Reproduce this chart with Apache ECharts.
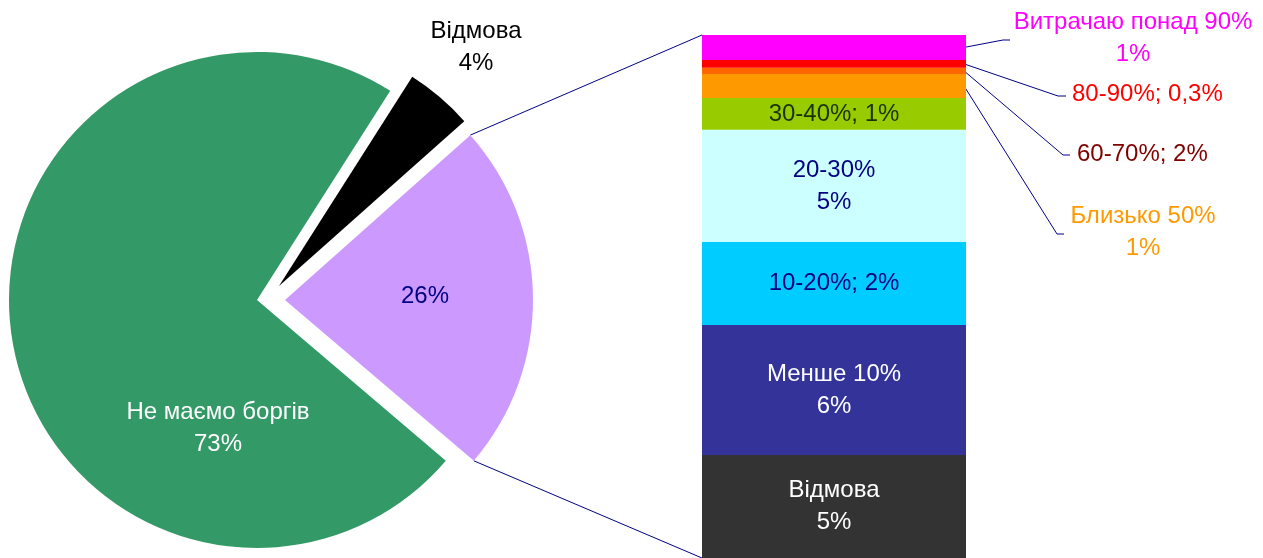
<!DOCTYPE html>
<html>
<head>
<meta charset="utf-8">
<script src="https://cdn.jsdelivr.net/npm/echarts@6/dist/echarts.min.js"></script>
<style>
  html, body { margin: 0; padding: 0; background: #fff; }
  #chart { width: 1263px; height: 558px; }
</style>
</head>
<body>
<div id="chart"></div>
<script>
// pie part (clockwise from the black slice)
var pieNames = ['Відмова', 'Маємо борги', 'Не маємо боргів'];
var pieValues = [4.4, 22.8, 72.8];
var pieLabels = ['Відмова\n4%', '26%', 'Не маємо боргів\n73%'];

// bar part, from bottom to top
var barNames = ['Відмова', 'Менше 10%', '10-20%', '20-30%', '30-40%', 'Близько 50%', '60-70%', '80-90%', 'Витрачаю понад 90%'];
var barValues = [4.55, 5.74, 3.67, 4.95, 1.41, 1.06, 0.27, 0.35, 1.10];
var barLabels = ['Відмова\n5%', 'Менше 10%\n6%', '10-20%; 2%', '20-30%\n5%', '30-40%; 1%', 'Близько 50%\n1%', '60-70%; 2%', '80-90%; 0,3%', 'Витрачаю понад 90%\n1%'];

var font = 'Liberation Sans, Arial, sans-serif';
var pieColors = ['#000000', '#CC99FF', '#339966'];
var pieTextColors = ['#000000', '#000080', '#ffffff'];
var barColors = ['#333333', '#333399', '#00CCFF', '#CCFFFF', '#99CC00', '#FF9900', '#FF6600', '#FF0000', '#FF00FF'];
var barTextColors = ['#ffffff', '#ffffff', '#000080', '#000080', '#1a3300', '#FF9900', '#800000', '#FF0000', '#FF00FF'];

var pieCenter = [257, 300];
var pieRadius = 248;
var pieStart = 57.5;
// how far each slice is pulled out [dx, dy]
var explode = [[22, -14], [28, 0], [0, 0]];

// label spots
var pieLabelPos = [[476, 47], [425, 296], [218, 428]];
// outside labels of bar: [x, y, align]
var outLabel = {
  5: [1143, 232, 'center'],
  6: [1077, 154, 'left'],
  7: [1072, 94, 'left'],
  8: [1133, 38, 'center']
};
// leader lines: bend point and end point
var leader = {
  5: [[1057, 234], [1064, 234]],
  6: [[1063, 155], [1070, 155]],
  7: [[1058, 96], [1066, 96]],
  8: [[1003, 40], [1010, 40]]
};

var total = 0;
barValues.forEach(function (v) { total += v; });
var pieSum = 0;
pieValues.forEach(function (v) { pieSum += v; });

// slice angles
var edges = [pieStart];
pieValues.forEach(function (v, i) { edges.push(edges[i] - v / pieSum * 360); });
function rad(a) { return a * Math.PI / 180; }

// one pie series per slice, so each slice can be pulled out on its own
var pieSeries = pieNames.map(function (n, k) {
  var c = [pieCenter[0] + explode[k][0], pieCenter[1] + explode[k][1]];
  return {
    type: 'pie',
    center: c,
    radius: pieRadius,
    startAngle: pieStart,
    clockwise: true,
    avoidLabelOverlap: false,
    emphasis: { disabled: true },
    silent: true,
    labelLine: { show: false },
    labelLayout: function (p) {
      if (p.dataIndex !== k) return;
      var q = pieLabelPos[k];
      return { x: q[0], y: q[1], align: 'center', verticalAlign: 'middle' };
    },
    data: pieNames.map(function (nm, i) {
      return {
        name: nm,
        value: pieValues[i],
        itemStyle: { color: i === k ? pieColors[i] : 'rgba(0,0,0,0)' },
        label: {
          show: i === k,
          position: 'inside',
          formatter: pieLabels[i],
          color: pieTextColors[i],
          fontSize: 24,
          lineHeight: 32,
          fontFamily: font
        }
      };
    })
  };
});

var barSeries = barNames.map(function (n, i) {
  var out = outLabel[i];
  return {
    type: 'bar',
    name: n,
    stack: 'all',
    barWidth: '100%',
    data: [barValues[i]],
    itemStyle: { color: barColors[i] },
    emphasis: { disabled: true },
    label: {
      show: true,
      position: out ? 'right' : 'inside',
      formatter: barLabels[i],
      color: barTextColors[i],
      fontSize: 24,
      lineHeight: 32,
      fontFamily: font
    },
    labelLayout: out ? function () {
      return { x: out[0], y: out[1], align: out[2], verticalAlign: 'middle' };
    } : null
  };
});

var option = {
  animation: false,
  grid: { left: 702, width: 264, top: 35, bottom: 0 },
  xAxis: { type: 'category', data: ['bar'], show: false },
  yAxis: { type: 'value', min: 0, max: total, show: false },
  series: pieSeries.concat(barSeries)
};

var chart = echarts.init(document.getElementById('chart'));
chart.setOption(option);

// connector lines from the split slice to the bar
var tip = [pieCenter[0] + explode[1][0], pieCenter[1] + explode[1][1]];
function corner(a) {
  a = rad(a);
  return [tip[0] + pieRadius * Math.cos(a), tip[1] - pieRadius * Math.sin(a)];
}
var barTop = chart.convertToPixel({ gridIndex: 0 }, [0, total]);
var barBottom = chart.convertToPixel({ gridIndex: 0 }, [0, 0]);
var barLeft = barTop[0] - 132;
var barRight = barTop[0] + 132;

var lines = [
  { type: 'polyline', shape: { points: [corner(edges[1]), [barLeft, barTop[1]]] }, style: { stroke: '#000080', lineWidth: 1, fill: null } },
  { type: 'polyline', shape: { points: [corner(edges[2]), [barLeft, barBottom[1]]] }, style: { stroke: '#000080', lineWidth: 1, fill: null } }
];
var cum = 0;
barValues.forEach(function (v, i) {
  if (leader[i]) {
    var p = chart.convertToPixel({ gridIndex: 0 }, [0, cum + v / 2]);
    lines.push({
      type: 'polyline',
      shape: { points: [[barRight - 2, p[1]], leader[i][0], leader[i][1]] },
      style: { stroke: '#000080', lineWidth: 1, fill: null }
    });
  }
  cum += v;
});
chart.setOption({ graphic: { elements: lines } });
</script>
</body>
</html>
